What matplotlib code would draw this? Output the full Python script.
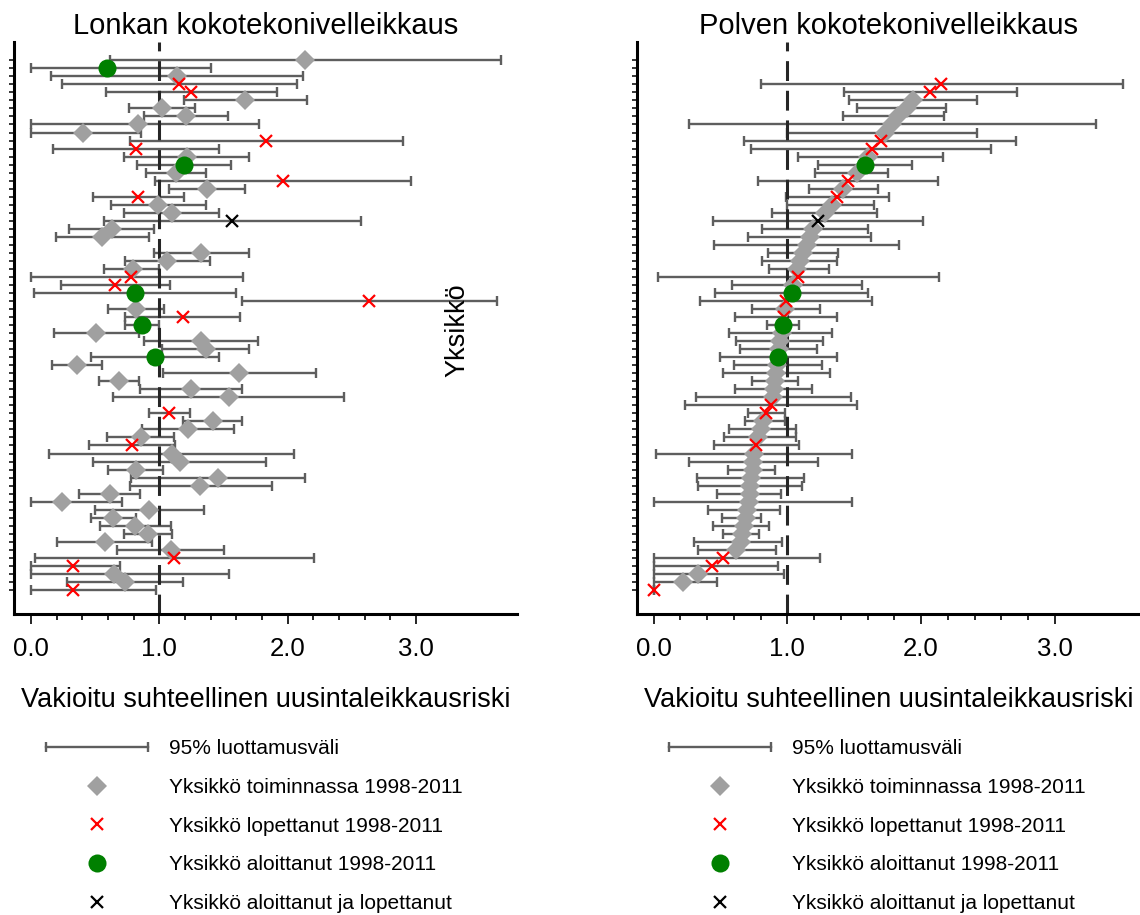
import numpy as np
import matplotlib.pyplot as plt
from matplotlib.lines import Line2D
from matplotlib.legend_handler import HandlerLine2D

plt.rcParams['font.family'] = ['Liberation Sans', 'DejaVu Sans']

# ryhmä: T = toiminnassa, L = lopettanut, A = aloittanut, AL = aloittanut ja lopettanut, '' = ei tietoa
hip_group = ['T', 'A', 'T', 'L', 'L', 'T', 'T', 'T', 'T', 'T',
             'L', 'L', 'T', 'A', 'T', 'L', 'T', 'L', 'T', 'T',
             'AL', 'T', 'T', '', 'T', 'T', 'T', 'L', 'L', 'A',
             'L', 'T', 'L', 'A', 'T', 'T', 'T', 'A', 'T', 'T',
             'T', 'T', 'T', '', 'L', 'T', 'T', 'T', 'L', 'T',
             'T', 'T', 'T', 'T', 'T', 'T', 'T', 'T', 'T', 'T',
             'T', 'T', 'L', 'L', 'T', 'T', 'L']
hip_est = [2.135, 0.59, 1.135, 1.153, 1.247, 1.668, 1.02, 1.208, 0.836, 0.403,
           1.83, 0.816, 1.213, 1.192, 1.127, 1.961, 1.369, 0.836, 0.992, 1.096,
           1.569, 0.629, 0.553, np.nan, 1.327, 1.062, 0.792, 0.777, 0.655, 0.81,
           2.636, 0.818, 1.182, 0.862, 0.509, 1.327, 1.361, 0.964, 0.356, 1.623,
           0.686, 1.244, 1.54, np.nan, 1.075, 1.416, 1.226, 0.857, 0.787, 1.099,
           1.161, 0.816, 1.457, 1.319, 0.613, 0.239, 0.922, 0.642, 0.81, 0.912,
           0.574, 1.091, 1.117, 0.327, 0.649, 0.735, 0.33]
hip_lo = [0.616, 0.0, 0.153, 0.242, 0.584, 1.19, 0.766, 0.88, 0.0, 0.0,
          0.771, 0.169, 0.722, 0.823, 0.894, 0.966, 1.075, 0.483, 0.621, 0.725,
          0.571, 0.299, 0.192, np.nan, 0.961, 0.732, 0.571, 0.0, 0.234, 0.021,
          1.642, 0.597, 0.732, 0.73, 0.179, 0.883, 1.023, 0.468, 0.164, 1.029,
          0.53, 0.849, 0.642, np.nan, 0.919, 1.184, 0.868, 0.59, 0.455, 0.143,
          0.483, 0.597, 0.777, 0.771, 0.371, 0.0, 0.501, 0.468, 0.535, 0.725,
          0.205, 0.668, 0.034, 0.0, 0.0, 0.281, 0.0]
hip_hi = [3.66, 1.405, 2.12, 2.07, 1.914, 2.148, 1.275, 1.535, 1.777, 0.855,
          2.896, 1.468, 1.696, 1.558, 1.364, 2.958, 1.668, 1.19, 1.361, 1.468,
          2.571, 0.956, 0.917, np.nan, 1.696, 1.392, 1.0, 1.655, 1.086, 1.6,
          3.634, 1.039, 1.626, 1.0, 0.842, 1.771, 1.699, 1.465, 0.551, 2.223,
          0.842, 1.647, 2.442, np.nan, 1.236, 1.647, 1.582, 1.114, 1.119, 2.052,
          1.834, 1.031, 2.132, 1.875, 0.852, 0.712, 1.345, 0.816, 1.091, 1.099,
          0.943, 1.506, 2.203, 0.691, 1.54, 1.184, 0.977]

knee_group = ['', '', '', 'L', 'L', 'T', 'T', 'T', 'T', 'T',
              'L', 'L', 'T', 'A', 'T', 'L', 'T', 'L', 'T', 'T',
              'AL', 'T', 'T', 'T', 'T', 'T', 'T', 'L', 'T', 'A',
              'L', 'T', 'L', 'A', 'T', 'T', 'T', 'A', 'T', 'T',
              'T', 'T', 'T', 'L', 'L', 'T', 'T', 'T', 'L', 'T',
              'T', 'T', 'T', 'T', 'T', 'T', 'T', 'T', 'T', 'T',
              'T', 'T', 'L', 'L', 'T', 'T', 'L']
knee_est = [np.nan, np.nan, np.nan, 2.152, 2.07, 1.94, 1.892, 1.83, 1.78, 1.73,
            1.70, 1.63, 1.60, 1.58, 1.518, 1.456, 1.418, 1.373, 1.331, 1.281,
            1.231, 1.19, 1.167, 1.144, 1.119, 1.094, 1.07, 1.077, 1.044, 1.032,
            0.99, 0.982, 0.975, 0.965, 0.957, 0.945, 0.94, 0.933, 0.92, 0.913,
            0.905, 0.898, 0.89, 0.878, 0.838, 0.818, 0.80, 0.781, 0.764, 0.749,
            0.744, 0.739, 0.731, 0.724, 0.719, 0.711, 0.699, 0.689, 0.677, 0.664,
            0.652, 0.619, 0.522, 0.435, 0.328, 0.221, 0.0]
knee_lo = [np.nan, np.nan, np.nan, 0.801, 1.42, 1.463, 1.518, 1.413, 0.266, 1.0,
           0.674, 0.731, 1.082, 1.231, 1.206, 0.779, 1.162, 0.987, 0.995, 0.887,
           0.443, 0.808, 0.706, 0.448, 0.853, 0.808, 0.865, 0.035, 0.583, 0.458,
           0.348, 0.738, 0.608, 0.845, 0.566, 0.619, 0.649, 0.493, 0.597, 0.52,
           0.734, 0.609, 0.316, 0.234, 0.706, 0.682, 0.565, 0.527, 0.448, 0.017,
           0.264, 0.552, 0.321, 0.331, 0.475, 0.0, 0.408, 0.51, 0.445, 0.52,
           0.301, 0.328, 0.0, 0.0, 0.0, 0.0, 0.0]
knee_hi = [np.nan, np.nan, np.nan, 3.507, 2.719, 2.42, 2.184, 2.171, 3.306, 2.418,
           2.711, 2.525, 2.161, 1.929, 1.755, 2.129, 1.68, 1.762, 1.65, 1.668,
           2.017, 1.605, 1.625, 1.833, 1.381, 1.369, 1.313, 2.134, 1.56, 1.605,
           1.63, 1.244, 1.369, 1.089, 1.331, 1.266, 1.221, 1.371, 1.261, 1.316,
           1.08, 1.187, 1.473, 1.52, 0.983, 0.983, 1.062, 1.067, 1.087, 1.483,
           1.226, 0.908, 1.124, 1.109, 0.953, 1.485, 0.948, 0.806, 0.866, 0.784,
           0.958, 0.913, 1.246, 0.93, 0.973, 0.475, 0.0]

legend_labels = ['95% luottamusväli',
                 'Yksikkö toiminnassa 1998-2011',
                 'Yksikkö lopettanut 1998-2011',
                 'Yksikkö aloittanut 1998-2011',
                 'Yksikkö aloittanut ja lopettanut']

bar_color = '#5e5e5e'
styles = {
    'T': dict(marker='D', color='#a0a0a0', ms=10, mew=0, zorder=3),
    'L': dict(marker='x', color='#ff0000', ms=8, mew=1.6, zorder=4),
    'A': dict(marker='o', color='#008000', ms=13, mew=0, zorder=5),
    'AL': dict(marker='x', color='black', ms=8, mew=1.6, zorder=6),
}

W, H = 1140, 915
fig = plt.figure(figsize=(W / 100, H / 100), dpi=100)


def draw_panel(left_px, right_px, zero_px, unit_px, title, group, est, lo, hi, leg_x):
    ax = fig.add_axes([left_px / W, 1 - 614 / H, (right_px - left_px) / W, 572 / H])
    group = np.array(group)
    est = np.array(est, dtype=float)
    lo = np.array(lo, dtype=float)
    hi = np.array(hi, dtype=float)
    rows = np.arange(1, len(est) + 1)
    ok = ~np.isnan(est)

    ax.errorbar(est[ok], rows[ok], xerr=[est[ok] - lo[ok], hi[ok] - est[ok]],
                fmt='none', ecolor=bar_color, elinewidth=1.7, capsize=3.8,
                capthick=1.7, zorder=1)
    ax.axvline(1.0, color='#262626', lw=2.2, ls=(0, (6.5, 3.2)), zorder=2)
    for key in ['T', 'L', 'A', 'AL']:
        m = group == key
        ax.plot(est[m], rows[m], ls='none', **styles[key])

    ax.set_xlim((left_px - zero_px) / unit_px, (right_px - zero_px) / unit_px)
    ax.set_ylim(70.0, -1.28)
    ax.set_xticks([0, 1, 2, 3])
    ax.set_xticklabels(['0.0', '1.0', '2.0', '3.0'])
    ax.set_xticks([v / 5 for v in range(16) if v % 5], minor=True)
    ax.set_yticks(rows)
    ax.set_yticklabels([])
    ax.tick_params(axis='x', which='major', length=7.2, width=1.2, pad=9,
                   labelsize=18.5)
    ax.tick_params(axis='x', which='minor', length=4.3, width=1.2)
    ax.tick_params(axis='y', length=3.6, width=1.1)
    for s in ['top', 'right']:
        ax.spines[s].set_visible(False)
    for s in ['left', 'bottom']:
        ax.spines[s].set_linewidth(2.2)
    ax.set_title(title, fontsize=21, pad=6)
    ax.set_xlabel('Vakioitu suhteellinen uusintaleikkausriski', fontsize=19.5,
                  labelpad=19)

    bar = Line2D([], [], color=bar_color, lw=1.7, marker='|', ms=7.6, mew=1.7)
    handles = [bar] + [Line2D([], [], ls='none', **{k: v for k, v in styles[g].items()
                                                    if k != 'zorder'})
                       for g in ['T', 'L', 'A', 'AL']]
    ax.legend(handles, legend_labels, loc='upper left',
              bbox_to_anchor=(leg_x / W, 1 - 739 / H),
              bbox_transform=fig.transFigure, frameon=False, fontsize=15,
              handlelength=5.5, handletextpad=0.7, labelspacing=0.95,
              borderpad=0, borderaxespad=0,
              handler_map={bar: HandlerLine2D(numpoints=2)})
    return ax


ax1 = draw_panel(14, 517, 31, 128.3, 'Lonkan kokotekonivelleikkaus',
                 hip_group, hip_est, hip_lo, hip_hi, 40)
ax2 = draw_panel(637, 1140, 653.7, 133.7, 'Polven kokotekonivelleikkaus',
                 knee_group, knee_est, knee_lo, knee_hi, 663)

fig.text(457 / W, 1 - 330 / H, 'Yksikkö', rotation=90, ha='center',
         va='center', fontsize=19.5)

fig.savefig('out.png', dpi=100)
